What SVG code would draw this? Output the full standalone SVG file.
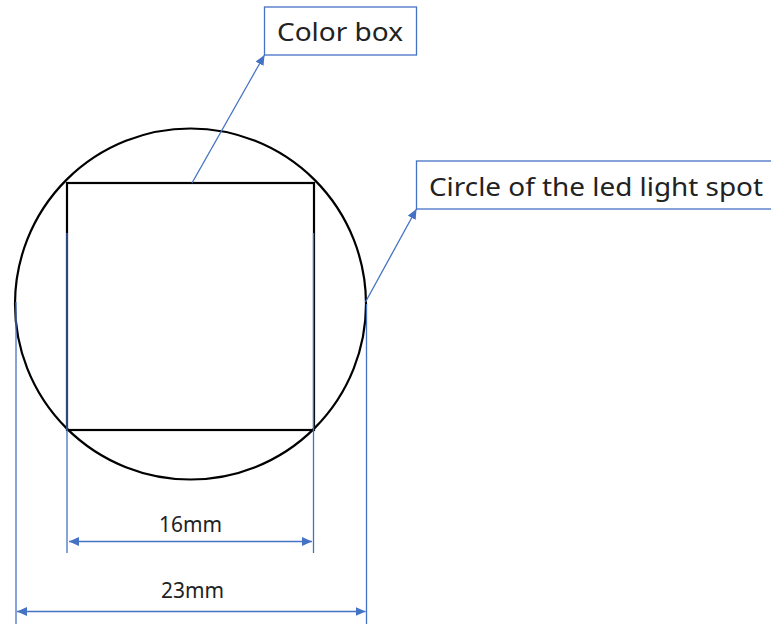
<svg xmlns="http://www.w3.org/2000/svg" width="771" height="624" viewBox="0 0 771 624">
<style>
.blk{fill:none;stroke:#000;stroke-width:2.2}
.bl{fill:none;stroke:#4472C4;stroke-width:1.3}
.lbl{fill:#222;font-family:"Noto Sans","Liberation Sans","DejaVu Sans",sans-serif}
</style>
<defs>
<marker id="ah" viewBox="0 0 10 10" refX="10" refY="5" markerWidth="10" markerHeight="10" markerUnits="userSpaceOnUse" orient="auto-start-reverse">
<path d="M0,0.5 L10,5 L0,9.5 Z" fill="#4472C4"/>
</marker>
</defs>
<rect width="771" height="624" fill="#fff"/>
<g id="spot-circle">
<circle class="blk" cx="190.5" cy="304" r="175.5"/>
</g>
<g id="color-box">
<rect class="blk" x="67" y="183" width="247" height="247"/>
</g>
<g id="label-color-box">
<rect class="bl" x="264.5" y="7" width="152" height="48" fill="#fff"/>
<text class="lbl" x="277" y="41" font-size="26" textLength="126" lengthAdjust="spacingAndGlyphs">Color box</text>
</g>
<g id="label-circle">
<rect class="bl" x="416.5" y="161" width="380" height="48" fill="#fff"/>
<text class="lbl" x="429" y="196" font-size="26" textLength="334" lengthAdjust="spacingAndGlyphs">Circle of the led light spot</text>
</g>
<g id="dim-16mm">
<text class="lbl" x="159" y="532" font-size="21" textLength="63" lengthAdjust="spacingAndGlyphs">16mm</text>
</g>
<g id="dim-23mm">
<text class="lbl" x="161" y="598" font-size="21" textLength="63" lengthAdjust="spacingAndGlyphs">23mm</text>
</g>
<g id="connectors">
<line class="bl" x1="192" y1="183" x2="264.5" y2="55" marker-end="url(#ah)"/>
<line class="bl" x1="365.5" y1="302" x2="416.5" y2="209" marker-end="url(#ah)"/>
<line class="bl" x1="67" y1="233" x2="67" y2="553"/>
<line class="bl" x1="313.5" y1="233" x2="313.5" y2="553"/>
<line class="bl" x1="16" y1="302" x2="16" y2="624"/>
<line class="bl" x1="366.5" y1="304" x2="366.5" y2="624"/>
<line class="bl" x1="69" y1="541.5" x2="312" y2="541.5" marker-start="url(#ah)" marker-end="url(#ah)"/>
<line class="bl" x1="17" y1="611.5" x2="365.5" y2="611.5" marker-start="url(#ah)" marker-end="url(#ah)"/>
</g>
</svg>
